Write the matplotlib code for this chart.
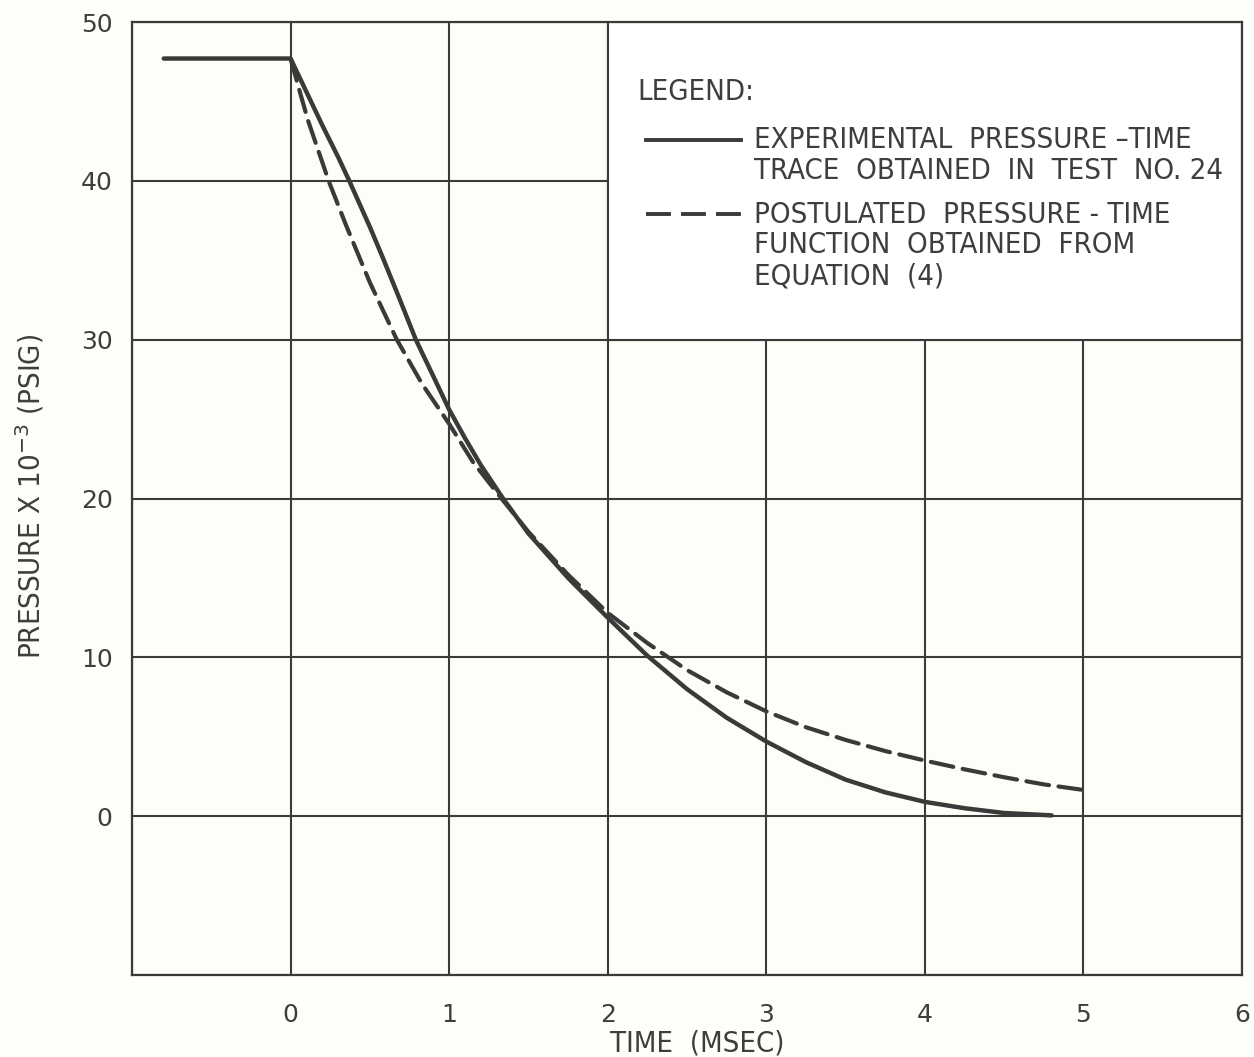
import matplotlib
matplotlib.use("Agg")
import matplotlib.pyplot as plt
from matplotlib.patches import Rectangle

# ---- data ----
exp_time = [-0.8, 0.0, 0.1, 0.2, 0.3, 0.37, 0.5, 0.58, 0.69, 0.79, 0.9, 1.0, 1.1, 1.2,
            1.34, 1.5, 1.75, 2.0, 2.25, 2.5, 2.75, 3.0, 3.25, 3.5, 3.75, 4.0, 4.25, 4.5, 4.8]
exp_pressure = [47.7, 47.7, 45.6, 43.5, 41.5, 40.0, 37.1, 35.2, 32.5, 30.0, 27.7, 25.6, 23.8, 22.1,
                20.0, 17.8, 15.0, 12.5, 10.1, 8.0, 6.2, 4.7, 3.4, 2.3, 1.5, 0.9, 0.5, 0.2, 0.05]

post_time = [0.0, 0.05, 0.11, 0.24, 0.35, 0.5, 0.67, 0.83, 1.0, 1.15, 1.33, 1.5, 1.75, 2.0,
             2.25, 2.5, 2.75, 3.0, 3.25, 3.5, 3.75, 4.0, 4.25, 4.5, 4.75, 5.0]
post_pressure = [47.7, 45.9, 43.8, 40.0, 37.2, 33.6, 30.0, 27.2, 24.7, 22.3, 20.0, 17.9, 15.2, 12.8,
                 10.9, 9.2, 7.8, 6.6, 5.6, 4.8, 4.1, 3.5, 2.95, 2.45, 2.0, 1.65]

x_ticks = [0, 1, 2, 3, 4, 5, 6]
y_ticks = [0, 10, 20, 30, 40, 50]

legend_title = "LEGEND:"
legend_solid = ["EXPERIMENTAL  PRESSURE \u2013TIME", "TRACE  OBTAINED  IN  TEST  NO. 24"]
legend_dashed = ["POSTULATED  PRESSURE - TIME", "FUNCTION  OBTAINED  FROM", "EQUATION  (4)"]

INK = "#3a3a3a"
TXT = "#3e3e3e"

plt.rcParams['font.family'] = ['DejaVu Sans']

fig = plt.figure(figsize=(12.54, 10.57), dpi=100, facecolor="#fefefa")
ax = fig.add_axes([132/1254, 1-975/1057, 1110/1254, 953/1057])
ax.set_facecolor("#fefef8")

ax.set_xlim(-1, 6)
ax.set_ylim(-10, 50)
ax.set_xticks(range(-1, 7))
ax.set_yticks(range(-10, 51, 10))
ax.set_xticklabels([""] + [str(t) for t in x_ticks])
ax.set_yticklabels([""] + [str(t) for t in y_ticks])
ax.tick_params(axis='both', length=0, labelsize=18, colors=TXT)
ax.tick_params(axis='x', pad=20)
ax.tick_params(axis='y', pad=14)
ax.grid(True, color=INK, linewidth=1.5, zorder=0.5)
ax.set_axisbelow(True)
for s in ax.spines.values():
    s.set_color(INK)
    s.set_linewidth(1.6)

# legend box covering the grid
ax.add_patch(Rectangle((2, 30), 4, 20, facecolor="white", edgecolor=INK,
                       linewidth=1.5, zorder=1))

ax.plot(exp_time, exp_pressure, color=INK, linewidth=3.2, solid_capstyle='round',
        solid_joinstyle='round', zorder=3)
ax.plot(post_time, post_pressure, color=INK, linewidth=3.0, dashes=(5.5, 2.3),
        dash_capstyle='round', zorder=3)

# legend contents
LFAM = ['DejaVu Sans', 'Liberation Sans']
lfont = dict(family=LFAM, stretch='condensed', fontsize=21, color=TXT,
             va='center', ha='left', zorder=4)
ax.text(2.19, 45.6, legend_title, **lfont)
ax.plot([2.24, 2.84], [42.6, 42.6], color=INK, linewidth=2.8, zorder=4)
ax.plot([2.24, 2.84], [37.9, 37.9], color=INK, linewidth=2.8, dashes=(6.4, 2.6), zorder=4)
for yv, s in zip([42.58, 40.63], legend_solid):
    ax.text(2.92, yv, s, **lfont)
for yv, s in zip([37.86, 35.97, 33.96], legend_dashed):
    ax.text(2.92, yv, s, **lfont)

ax.set_xlabel("TIME  (MSEC)", fontsize=21, color=TXT, family=LFAM, stretch='condensed')
ax.xaxis.set_label_coords(0.509, -0.057)
ax.set_ylabel("PRESSURE X 10$^{-3}$ (PSIG)", fontsize=21, color=TXT, family=LFAM,
              stretch='condensed')
ax.yaxis.set_label_coords(-0.077, 0.502)

fig.savefig("out.png", dpi=100, facecolor=fig.get_facecolor())
